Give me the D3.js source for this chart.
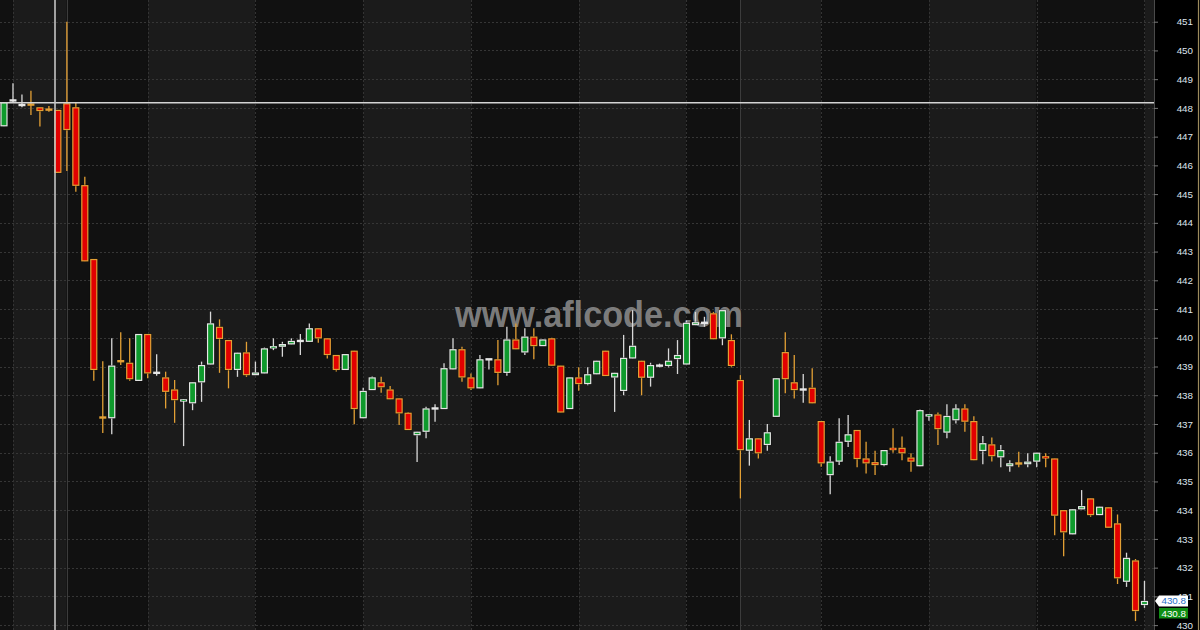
<!DOCTYPE html>
<html>
<head>
<meta charset="utf-8">
<script src="https://cdn.jsdelivr.net/npm/d3@7"></script>
<style>
  html, body { margin: 0; padding: 0; background: #000; }
  svg { display: block; }
</style>
</head>
<body>
<svg id="chart" width="1200" height="630"></svg>
<script>
// ---- data ----
const opens = [447.36,448.25,448.10,448.13,448.02,447.95,447.93,448.16,448.02,445.31,
  442.74,437.25,437.20,439.20,439.13,438.50,440.13,438.78,438.62,438.20,
  437.78,437.72,438.45,439.07,440.38,439.92,438.88,439.49,438.70,438.76,
  439.63,439.69,439.77,439.89,439.86,440.33,439.98,439.40,438.88,439.55,
  437.20,438.18,438.45,438.20,437.89,437.39,436.61,436.73,437.54,437.52,
  438.90,439.60,438.62,438.24,439.25,439.25,438.78,439.94,439.49,440.04,
  439.71,439.98,439.03,437.52,438.62,438.39,438.73,439.55,438.62,438.15,
  439.28,439.20,438.61,439.03,439.02,439.26,439.07,440.44,440.52,440.85,
  439.98,439.92,438.53,436.07,436.50,436.27,437.25,439.50,438.45,438.20,
  438.26,437.10,435.22,435.69,436.38,436.79,435.80,435.67,435.57,436.17,
  436.17,435.83,435.53,437.27,437.33,436.70,437.13,437.54,437.10,436.06,
  436.29,435.84,435.53,435.65,435.60,435.69,435.88,435.80,434.00,433.16,
  434.03,434.41,433.83,434.10,433.54,431.51,432.25,430.70];
const highs = [448.20,448.86,448.47,448.60,448.02,448.07,447.93,451.00,448.19,445.60,
  442.74,439.18,439.98,440.19,439.98,440.13,440.13,439.43,438.82,438.53,
  437.86,438.45,439.17,440.91,440.64,439.92,439.48,439.86,439.17,439.66,
  439.98,439.86,439.98,440.13,440.50,440.33,439.98,439.40,439.43,439.55,
  438.26,438.65,438.64,438.32,437.89,437.42,436.73,437.60,437.69,439.11,
  439.98,439.69,438.76,439.40,439.25,439.92,440.38,440.50,440.33,440.33,
  439.94,440.00,439.03,438.62,438.97,438.97,439.20,439.55,438.78,440.10,
  440.96,439.20,439.13,439.10,439.63,439.92,440.60,440.90,440.73,440.90,
  440.96,440.12,438.70,437.14,436.50,437.00,438.59,440.19,439.40,438.74,
  438.94,437.10,435.88,437.20,437.31,436.79,436.38,436.07,436.09,436.85,
  436.56,435.98,437.50,437.33,437.40,437.69,437.69,437.69,437.27,436.58,
  436.53,436.27,435.74,436.03,435.98,436.00,435.98,435.80,434.00,434.03,
  434.70,434.41,434.12,434.10,433.85,432.52,432.30,431.54];
const lows = [447.36,448.20,448.02,447.75,447.35,447.87,445.74,445.80,445.08,442.66,
  438.50,436.69,436.64,439.05,438.50,438.50,438.59,438.68,437.54,437.04,
  436.23,437.48,437.77,439.07,438.78,438.24,438.64,438.64,438.70,438.76,
  439.57,439.34,439.77,439.40,439.86,439.83,439.28,438.83,438.88,436.99,
  437.20,438.18,438.09,437.86,436.96,436.79,435.68,436.50,437.08,437.52,
  438.90,438.47,438.18,438.24,438.90,438.35,438.68,439.60,439.40,439.25,
  439.71,439.03,437.40,437.52,438.16,438.35,438.73,438.67,437.42,438.00,
  439.28,438.00,438.30,438.97,438.97,438.74,439.07,440.44,440.38,439.95,
  439.74,438.97,434.41,435.55,435.80,436.07,437.25,438.07,437.89,437.74,
  437.72,435.51,434.55,435.57,436.20,435.49,435.28,435.22,435.53,436.00,
  435.74,435.34,435.53,437.11,436.27,436.50,437.02,436.73,435.74,435.60,
  435.69,435.49,435.34,435.49,435.49,435.49,435.49,433.13,432.40,433.16,
  434.03,433.77,433.83,433.39,431.43,431.33,430.14,430.60];
const closes = [448.20,448.27,448.10,448.10,447.89,447.93,445.74,447.23,445.29,442.66,
  438.88,437.20,439.03,439.17,438.56,440.13,438.76,438.78,438.12,437.83,
  437.86,438.45,439.05,440.50,439.96,438.88,439.48,438.70,438.79,439.63,
  439.71,439.78,439.89,439.89,440.33,439.98,439.40,438.88,439.43,437.52,
  438.15,438.62,438.28,437.86,437.37,436.79,436.73,437.54,437.54,438.94,
  439.60,438.62,438.24,439.25,439.25,438.78,439.94,439.60,440.04,439.71,
  439.94,439.03,437.40,438.62,438.39,438.73,439.20,438.67,438.78,439.30,
  439.72,438.61,439.05,439.03,439.20,439.40,440.52,440.54,440.52,439.95,
  440.96,439.02,436.09,436.50,435.98,436.71,438.59,438.56,438.18,438.20,
  437.72,435.63,435.69,436.38,436.64,435.78,435.63,435.57,436.09,436.09,
  435.98,435.69,437.48,437.33,436.82,437.28,437.54,437.08,435.74,436.33,
  435.88,436.09,435.63,435.60,435.69,436.00,435.80,433.81,433.23,434.03,
  434.14,433.83,434.12,433.39,431.63,432.34,430.49,430.84];
const yTicks = [430,431,432,433,434,435,436,437,438,439,440,441,442,443,444,445,446,447,448,449,450,451];
const sessionLines = [1,7,16,28,40,52,64,76,82,91,103,115,127];   // bar indices of vertical separators
const dayLines = [7,82];                                           // solid separators
const lastLabel = "430.8";
const cursorValue = 448.18;
const cursorBar = 5.68;
const watermark = "www.aflcode.com";

// ---- layout ----
const W = 1200, H = 630, plotR = 1154;
const svg = d3.select("#chart");
const n = closes.length;
const x = d3.scaleLinear().domain([-0.445, 128.06]).range([0, plotR]);
const y = d3.scaleLinear().domain([429.83, 451.755]).range([H, 0]);

// backgrounds
svg.append("rect").attr("x",0).attr("y",0).attr("width",W).attr("height",H).attr("fill","#000");
const bounds = [-0.445].concat(sessionLines).concat([128.06]);
for (let k = 0; k < bounds.length - 1; k++) {
  svg.append("rect")
    .attr("x", x(bounds[k])).attr("y", 0)
    .attr("width", x(bounds[k+1]) - x(bounds[k])).attr("height", H)
    .attr("fill", k % 2 === 0 ? "#111111" : "#1b1b1b");
}

// grid
const grid = svg.append("g");
grid.selectAll("line.h").data(yTicks).enter().append("line")
  .attr("x1", 0).attr("x2", plotR)
  .attr("y1", d => Math.round(y(d)) + 0.5).attr("y2", d => Math.round(y(d)) + 0.5)
  .attr("stroke", "#363636").attr("stroke-dasharray", "2,2");
grid.selectAll("line.v").data(sessionLines).enter().append("line")
  .attr("x1", d => Math.round(x(d)) + 0.5).attr("x2", d => Math.round(x(d)) + 0.5)
  .attr("y1", 0).attr("y2", H)
  .attr("stroke", d => dayLines.includes(d) ? "#3c3c3c" : "#333")
  .attr("stroke-dasharray", d => dayLines.includes(d) ? null : "2,2");

// watermark
svg.append("text")
  .attr("x", 599).attr("y", 326.5)
  .attr("text-anchor", "middle")
  .attr("font-family", "Liberation Sans, Arial, sans-serif")
  .attr("font-weight", "bold").attr("font-size", 37)
  .attr("textLength", 288).attr("lengthAdjust", "spacingAndGlyphs")
  .attr("fill", "#8a8a8a").attr("fill-opacity", 0.9)
  .text(watermark);

// candles
const data = d3.range(n).map(i => ({i, o: opens[i], h: highs[i], l: lows[i], c: closes[i]}));
const upFill = "#0e9a2c", upLine = "#e6e6e6", dnFill = "#e20000", dnLine = "#e3a035";
const cg = svg.append("g");
const candle = cg.selectAll("g").data(data).enter().append("g");
candle.append("line")
  .attr("x1", d => x(d.i)).attr("x2", d => x(d.i))
  .attr("y1", d => y(d.h)).attr("y2", d => y(d.l))
  .attr("stroke", d => d.c >= d.o ? "#d8d8d8" : dnLine).attr("stroke-width", 1.3);
candle.each(function(d) {
  const g = d3.select(this);
  const top = y(Math.max(d.o, d.c)), bot = y(Math.min(d.o, d.c));
  const up = d.c >= d.o;
  if (bot - top < 2.5) {
    g.append("rect").attr("x", x(d.i) - 3.5).attr("y", (top + bot) / 2 - 1.2)
      .attr("width", 7).attr("height", 2.4)
      .attr("fill", up ? upLine : dnLine);
    if (bot - top >= 1.5) {
      g.append("rect").attr("x", x(d.i) - 2.2).attr("y", (top + bot) / 2 - 0.5)
        .attr("width", 4.4).attr("height", 1).attr("fill", up ? upFill : dnFill);
    }
  } else {
    g.append("rect").attr("x", x(d.i) - 4).attr("y", top - 0.5)
      .attr("width", 8).attr("height", bot - top + 1).attr("fill", "#050505").attr("opacity", 0.6);
    g.append("rect").attr("x", x(d.i) - 3).attr("y", top + 0.5)
      .attr("width", 6).attr("height", bot - top - 1)
      .attr("fill", up ? upFill : dnFill)
      .attr("stroke", up ? upLine : dnLine).attr("stroke-width", 1.2);
  }
});

// cursor lines
svg.append("line").attr("x1", 0).attr("x2", plotR)
  .attr("y1", y(cursorValue)).attr("y2", y(cursorValue))
  .attr("stroke", "#d4d4d4").attr("stroke-width", 1.6);
svg.append("line").attr("x1", x(cursorBar)).attr("x2", x(cursorBar))
  .attr("y1", 0).attr("y2", H)
  .attr("stroke", "#c4c4c4").attr("stroke-width", 1.6);

// axis panel
svg.append("rect").attr("x", plotR).attr("y", 0).attr("width", W - plotR).attr("height", H).attr("fill", "#000");
svg.append("line").attr("x1", plotR + 0.5).attr("x2", plotR + 0.5).attr("y1", 0).attr("y2", H)
  .attr("stroke", "#4a4a4a").attr("stroke-width", 1);
svg.append("line").attr("x1", W - 1.5).attr("x2", W - 1.5).attr("y1", 0).attr("y2", H)
  .attr("stroke", "#9c8a5c").attr("stroke-width", 1.2);

const axis = d3.axisRight(y).tickValues(yTicks).tickSize(4).tickFormat(d3.format("d"));
const ag = svg.append("g").attr("transform", `translate(${plotR},0)`).call(axis);
ag.select(".domain").remove();
ag.selectAll(".tick line").attr("stroke", "#777");
ag.selectAll(".tick text")
  .attr("x", 39).attr("text-anchor", "end")
  .attr("fill", "#dfe5ee")
  .attr("font-family", "Liberation Sans, Arial, sans-serif")
  .attr("font-size", 9.8);

// last value labels
const ly = y(closes[n - 1]);
svg.append("path")
  .attr("d", `M${plotR + 1},${ly} L${plotR + 5},${ly - 5.5} L${plotR + 34},${ly - 5.5} L${plotR + 34},${ly + 5.5} L${plotR + 5},${ly + 5.5} Z`)
  .attr("fill", "#ffffff");
svg.append("text").attr("x", plotR + 32).attr("y", ly + 3.5).attr("text-anchor", "end")
  .attr("font-family", "Liberation Sans, Arial, sans-serif").attr("font-size", 9.8)
  .attr("fill", "#1f6fc8").text(lastLabel);
svg.append("rect").attr("x", plotR + 5).attr("y", ly + 7).attr("width", 29).attr("height", 10.5)
  .attr("fill", "#0f8f14");
svg.append("text").attr("x", plotR + 32).attr("y", ly + 15.8).attr("text-anchor", "end")
  .attr("font-family", "Liberation Sans, Arial, sans-serif").attr("font-size", 9.8)
  .attr("fill", "#ffffff").text(lastLabel);
</script>
</body>
</html>
